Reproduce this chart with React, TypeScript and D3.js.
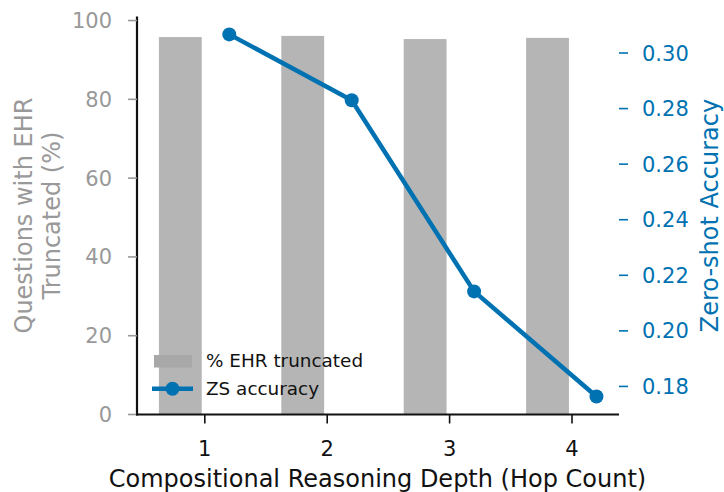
import React from 'react';
import * as d3 from 'd3';

// hop count categories
const hops = [1, 2, 3, 4];
// % of questions with EHR truncated (left axis)
const truncatedPct = [95.8, 96.1, 95.3, 95.6];
// zero-shot accuracy (right axis)
const zsAccuracy = [0.3067, 0.283, 0.2142, 0.1764];

const leftTicks = [0, 20, 40, 60, 80, 100];
const rightTicks = [0.18, 0.2, 0.22, 0.24, 0.26, 0.28, 0.3];

const BLUE = '#0072b2';
const BAR_GREY = '#b5b5b5';
const LABEL_GREY = '#999999';
const FONT = '"DejaVu Sans", sans-serif';

const W = 724;
const H = 492;
const plot = { left: 137, right: 619, top: 16.6, bottom: 414.5 };

const barOffset = 0.2;
const barWidth = 0.35;

const TICK_FS = 21;
const LABEL_FS = 24;
const LEGEND_FS = 18.4;

const App: React.FC = () => {
  const x = d3.scaleLinear().domain([0.446, 4.384]).range([plot.left, plot.right]);
  const yL = d3.scaleLinear().domain([0, 101]).range([plot.bottom, plot.top]);
  const yR = d3.scaleLinear().domain([0.1699, 0.3131]).range([plot.bottom, plot.top]);

  const line = d3
    .line<number>()
    .x((_d, i) => x(hops[i] + barOffset))
    .y(d => yR(d));

  const midY = (plot.top + plot.bottom) / 2;

  return (
    <div style={{ position: 'absolute', left: 0, top: 0 }}>
      <svg width={W} height={H} style={{ display: 'block', fontFamily: FONT }}>
        <rect width={W} height={H} fill="white" />

        {/* bars */}
        {truncatedPct.map((v, i) => (
          <rect
            key={'b' + i}
            x={x(hops[i] - barOffset - barWidth / 2)}
            y={yL(v)}
            width={x(barWidth) - x(0)}
            height={yL(0) - yL(v)}
            fill={BAR_GREY}
          />
        ))}

        {/* line */}
        <path d={line(zsAccuracy) || ''} fill="none" stroke={BLUE} strokeWidth={4.5} strokeLinejoin="round" />
        {zsAccuracy.map((v, i) => (
          <circle key={'p' + i} cx={x(hops[i] + barOffset)} cy={yR(v)} r={7} fill={BLUE} />
        ))}

        {/* left axis */}
        <line x1={plot.left} x2={plot.left} y1={plot.top} y2={plot.bottom + 1} stroke="#111" strokeWidth={2.2} />
        {leftTicks.map(t => (
          <g key={'l' + t}>
            <line x1={plot.left - 9} x2={plot.left} y1={yL(t)} y2={yL(t)} stroke={LABEL_GREY} strokeWidth={1.6} />
            <text x={112} y={yL(t)} dy="0.36em" textAnchor="end" fontSize={TICK_FS} fill={LABEL_GREY}>
              {t}
            </text>
          </g>
        ))}
        <text transform={`translate(32,${midY}) rotate(-90)`} textAnchor="middle" fontSize={LABEL_FS} fill={LABEL_GREY}>
          Questions with EHR
        </text>
        <text transform={`translate(60,${midY}) rotate(-90)`} textAnchor="middle" fontSize={LABEL_FS} fill={LABEL_GREY}>
          Truncated (%)
        </text>

        {/* bottom axis */}
        <line x1={plot.left - 1} x2={plot.right} y1={plot.bottom} y2={plot.bottom} stroke="#111" strokeWidth={2.2} />
        {hops.map(h => (
          <g key={'x' + h}>
            <line x1={x(h)} x2={x(h)} y1={plot.bottom} y2={plot.bottom + 9} stroke="#111" strokeWidth={1.6} />
            <text x={x(h)} y={455.7} textAnchor="middle" fontSize={TICK_FS} fill="#111">
              {h}
            </text>
          </g>
        ))}
        <text x={377.5} y={487} textAnchor="middle" fontSize={LABEL_FS} fill="#111">
          Compositional Reasoning Depth (Hop Count)
        </text>

        {/* right axis (no spine) */}
        {rightTicks.map(t => (
          <g key={'r' + t}>
            <line x1={plot.right} x2={plot.right + 9} y1={yR(t)} y2={yR(t)} stroke={BLUE} strokeWidth={1.6} />
            <text x={642} y={yR(t)} dy="0.36em" textAnchor="start" fontSize={TICK_FS} fill={BLUE}>
              {t.toFixed(2)}
            </text>
          </g>
        ))}
        <text transform={`translate(717.5,${midY}) rotate(-90)`} textAnchor="middle" fontSize={LABEL_FS} fill={BLUE}>
          Zero-shot Accuracy
        </text>

        {/* legend */}
        <rect x={154} y={355} width={38} height={12.5} fill="#a8a8a8" />
        <text x={206} y={367} fontSize={LEGEND_FS} fill="#111">
          % EHR truncated
        </text>
        <line x1={152} x2={193} y1={388.7} y2={388.7} stroke={BLUE} strokeWidth={4.5} />
        <circle cx={172.5} cy={388.7} r={7} fill={BLUE} />
        <text x={206} y={395} fontSize={LEGEND_FS} fill="#111">
          ZS accuracy
        </text>
      </svg>
    </div>
  );
};

export default App;
